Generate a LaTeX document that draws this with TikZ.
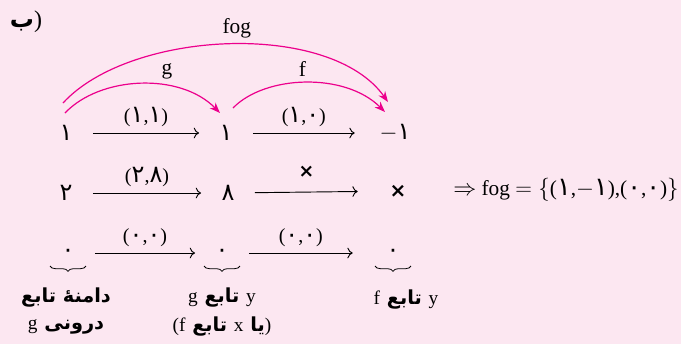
\documentclass[tikz,border=0pt]{standalone}
\usepackage{fontspec}
\setmainfont{Liberation Serif}
\newfontfamily\fa[Script=Arabic]{DejaVu Sans}
\newfontfamily\fad[Script=Arabic,Scale=1.2]{DejaVu Sans}
\TeXXeTstate=1
\usetikzlibrary{arrows.meta,decorations.pathreplacing}
\definecolor{bgpink}{RGB}{252,231,241}
\definecolor{hotpink}{RGB}{236,0,140}
\newcommand\pd[1]{{\fad #1}}
\newcommand\lt[1]{\textnormal{#1}}

\begin{document}
\begin{tikzpicture}[x=0.75pt,y=-0.75pt,>=Stealth,
  val/.style={minimum width=40pt,inner sep=0pt,font=\fa\fontsize{18}{20}\selectfont},
  valr/.style={val,minimum width=60pt},
  conn/.style={line width=0.7pt,-{To[length=4pt,width=8pt]}},
  lbl/.style={above=1pt,font=\fontsize{15}{17}\selectfont},
  fcurve/.style={hotpink,line width=0.9pt,-{Stealth[length=8pt,width=6pt]}},
  flbl/.style={above=1pt,text=black,font=\fontsize{16}{18}\selectfont},
  brc/.style={decorate,decoration={brace,mirror,amplitude=4pt},line width=0.6pt},
  note/.style={font=\fa\bfseries\fontsize{14.5}{16}\selectfont}]
  \useasboundingbox (0,0) rectangle (681,344);
  \fill[bgpink] (0,0) rectangle (681,344);

  \node[font=\fontsize{18}{20}\selectfont] (title) at (26,22) {{\fa\bfseries ب}\lt{)}};

  % values
  \node[val] (a1) at (66,133) {۱};
  \node[val] (b1) at (226,133) {۱};
  \node[valr] (c1) at (395,133) {\lt{$-$}۱};
  \node[val] (a2) at (66,193) {۲};
  \node[val] (b2) at (228,193) {۸};
  \node[valr] (c2) at (398,191) {\fontsize{15}{16}\selectfont\textbf{×}};
  \node[val] (a3) at (68,253) {۰};
  \node[val] (b3) at (222,253) {۰};
  \node[valr] (c3) at (393,253) {۰};

  \draw[conn] (a1) -- (b1) node[lbl,midway] {(\pd{۱},\pd{۱})};
  \draw[conn] (b1) -- (c1) node[lbl,midway] {(\pd{۱},\pd{۰})};
  \draw[conn] (a2) -- (b2) node[lbl,midway] {(\pd{۲},\pd{۸})};
  \draw[conn] (b2) -- (c2) node[lbl,midway,above=6pt,font=\fa\bfseries\fontsize{14}{16}\selectfont] {×};
  \draw[conn] (a3) -- (b3) node[lbl,midway] {(\pd{۰},\pd{۰})};
  \draw[conn] (b3) -- (c3) node[lbl,midway] {(\pd{۰},\pd{۰})};

  \node[font=\fontsize{16}{18}\selectfont] (res) at (566,190)
    {$\Rightarrow$ fog $=\Bigl\{$(\pd{۱},$-$\pd{۱}),(\pd{۰},\pd{۰})$\Bigr\}$};

  % composed maps
  \draw[fcurve] ([shift={(-1,-20)}]a1.center) .. controls +(35,-37) and +(-40,-41) .. ([shift={(-6,-20)}]b1.center)
    node[pos=.65,flbl] {g};
  \draw[fcurve] ([shift={(7,-25)}]b1.center) .. controls +(32,-33) and +(-40,-40) .. ([shift={(-10,-21)}]c1.center)
    node[pos=.48,flbl] {f};
  \draw[fcurve] ([shift={(-3,-30)}]a1.center) .. controls +(67,-73) and +(-58,-82) .. ([shift={(-7,-31)}]c1.center)
    node[pos=.52,flbl] {fog};

  % braces and notes
  \draw[brc] ([shift={(-18,13)}]a3.center) -- ([shift={(18,13)}]a3.center);
  \draw[brc] ([shift={(-18,13)}]b3.center) -- ([shift={(18,13)}]b3.center);
  \draw[brc] ([shift={(-18,13)}]c3.center) -- ([shift={(18,13)}]c3.center);
  \node[note] (n1) at (66,298) {\beginR دامنهٔ تابع\endR};
  \node[note] (n2) at (66,327) {\beginR درونی \lt{g}\endR};
  \node[note] (n3) at (222,298) {\beginR \lt{y} تابع \lt{g}\endR};
  \node[note] (n4) at (222,327) {\lt{(}\beginR یا \lt{x} تابع \lt{f}\endR\lt{)}};
  \node[note] (n5) at (406,300) {\beginR \lt{y} تابع \lt{f}\endR};
\end{tikzpicture}
\end{document}
